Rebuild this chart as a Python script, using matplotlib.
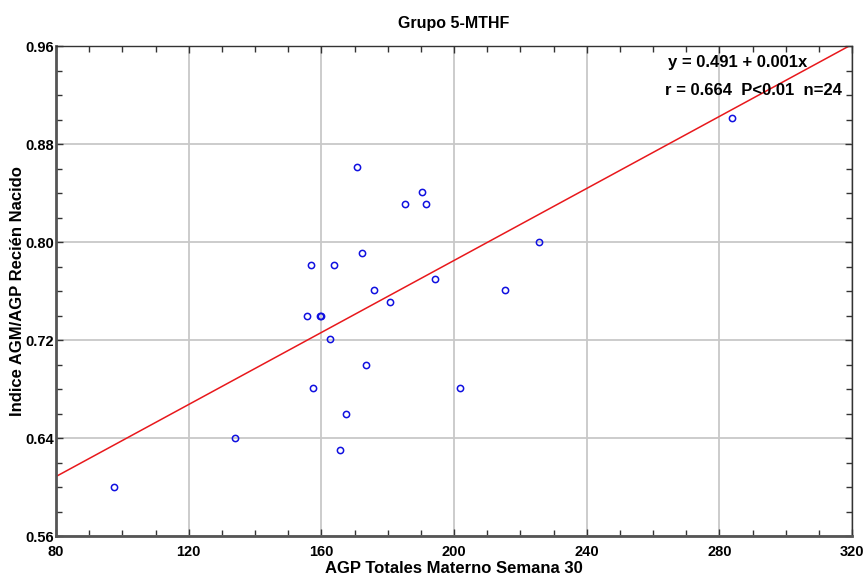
import matplotlib
matplotlib.use("Agg")
import matplotlib.pyplot as plt
import numpy as np
from matplotlib.ticker import MultipleLocator

plt.rcParams['font.family'] = ['Liberation Sans', 'DejaVu Sans']

title = "Grupo 5-MTHF"
xlabel = "AGP Totales Materno Semana 30"
ylabel = "Indice AGM/AGP Recién Nacido"

agp_materno = [97.5, 133.9, 170.7, 190.4, 185.2, 191.6, 172.3, 157.0, 163.7,
               194.1, 176.0, 180.6, 155.8, 159.5, 159.8, 162.5, 173.5, 157.6,
               201.7, 167.4, 165.6, 215.3, 225.7, 283.9]
indice_rn = [0.600, 0.640, 0.861, 0.841, 0.831, 0.831, 0.791, 0.781, 0.781,
             0.770, 0.761, 0.751, 0.740, 0.740, 0.740, 0.721, 0.700, 0.681,
             0.681, 0.660, 0.630, 0.761, 0.800, 0.901]

fit_intercept = 0.491
fit_slope = 0.00147
x_range = [80, 320]
y_range = [0.56, 0.96]
x_ticks = [80, 120, 160, 200, 240, 280, 320]
y_ticks = [0.56, 0.64, 0.72, 0.80, 0.88, 0.96]
annot_lines = ["y = 0.491 + 0.001x", "r = 0.664  P<0.01  n=24"]

fig = plt.figure(figsize=(8.66, 5.76), dpi=100)
ax = fig.add_axes([0.0647, 0.0694, 0.9193, 0.8506])

ax.set_xlim(*x_range)
ax.set_ylim(*y_range)
ax.set_xticks(x_ticks)
ax.set_yticks(y_ticks)
ax.set_xticklabels([str(t) for t in x_ticks])
ax.set_yticklabels([f"{t:.2f}" for t in y_ticks])
ax.xaxis.set_minor_locator(MultipleLocator(10))
ax.yaxis.set_minor_locator(MultipleLocator(0.02))
ax.grid(True, which='major', color='#c8c8c8', linewidth=1.3)
ax.set_axisbelow(True)

ax.tick_params(which='both', direction='in', top=True, right=True,
               labelsize=10.5, color='#333333')
ax.tick_params(axis='x', which='major', pad=6.5)
ax.tick_params(axis='y', which='major', pad=1.5)
ax.tick_params(which='major', length=5, width=1)
ax.tick_params(which='minor', length=4, width=1)
for lab in ax.get_xticklabels() + ax.get_yticklabels():
    lab.set_fontweight('bold')

for side in ['left', 'bottom']:
    ax.spines[side].set_linewidth(2)
    ax.spines[side].set_color('#555555')
for side in ['top', 'right']:
    ax.spines[side].set_linewidth(1)
    ax.spines[side].set_color('#333333')

xs = np.array(x_range, dtype=float)
ax.plot(xs, fit_intercept + fit_slope * xs, color='#e8181c', linewidth=1.1,
        clip_on=True, zorder=2)
ax.plot(agp_materno, indice_rn, linestyle='none', marker='o', markersize=4.5,
        markerfacecolor='none', markeredgecolor='#1010e0', markeredgewidth=1.1,
        zorder=3)

ax.set_title(title, fontsize=11.5, fontweight='bold', pad=13)
ax.set_xlabel(xlabel, fontsize=12, fontweight='bold', labelpad=1.5)
ax.set_ylabel(ylabel, fontsize=12, fontweight='bold', labelpad=0)

ax.text(0.943, 0.967, annot_lines[0], transform=ax.transAxes, ha='right', va='center',
        fontsize=12, fontweight='bold')
ax.text(0.987, 0.910, annot_lines[1], transform=ax.transAxes, ha='right', va='center',
        fontsize=12, fontweight='bold')

fig.savefig("out.png", dpi=100)
